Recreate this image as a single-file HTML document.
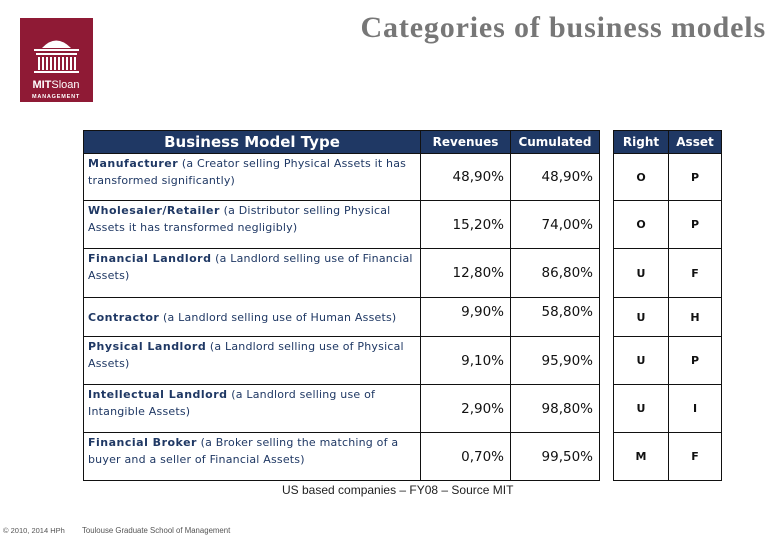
<!DOCTYPE html>
<html><head><meta charset="utf-8">
<style>
body{margin:0;width:780px;height:540px;background:#fff;position:relative;overflow:hidden;font-family:"DejaVu Sans","Liberation Sans",sans-serif}
.a{position:absolute;box-sizing:border-box}
.title{right:14px;top:11px;font-family:"Liberation Serif",serif;font-weight:bold;font-size:30px;color:#777;letter-spacing:0.85px;white-space:nowrap}
.logo{left:20px;top:18px;width:73px;height:84px;background:#8f1a35}
.cell{border:1.5px solid #111;}
.hd{background:#1f3864;color:#fff;font-weight:bold;font-size:12px;display:flex;align-items:center;justify-content:center}
.desc{font-size:11px;color:#1f3864;line-height:17px;padding:1px 4px;letter-spacing:0.2px}
.desc b{letter-spacing:0.5px}
.num{font-size:13.5px;color:#111;text-align:right;padding-right:6px;display:flex;align-items:center;justify-content:flex-end}
.ltr{font-size:11px;color:#111;font-weight:bold;display:flex;align-items:center;justify-content:center}
</style></head><body>
<div class="a title">Categories of business models</div>
<div class="a logo">
<svg width="73" height="84" viewBox="0 0 73 84">
<path d="M22 30 Q36 15 51 30 Z" fill="#fff"/>
<rect x="14" y="31" width="45" height="2" fill="#fff"/>
<rect x="16" y="35" width="41" height="2" fill="#fff"/>
<g fill="#fff"><rect x="18" y="39" width="2" height="13"/><rect x="22" y="39" width="2" height="13"/><rect x="26" y="39" width="2" height="13"/><rect x="30" y="39" width="2" height="13"/><rect x="34" y="39" width="2" height="13"/><rect x="38" y="39" width="2" height="13"/><rect x="42" y="39" width="2" height="13"/><rect x="46" y="39" width="2" height="13"/><rect x="50" y="39" width="2" height="13"/><rect x="54" y="39" width="2" height="13"/></g>
<rect x="14" y="53" width="45" height="2" fill="#fff"/>
<text x="36" y="70" text-anchor="middle" fill="#fff" font-family="Liberation Sans" font-size="11"><tspan font-weight="bold">MIT</tspan>Sloan</text>
<text x="36" y="80" text-anchor="middle" fill="#fff" font-family="Liberation Sans" font-size="5.5" font-weight="bold" letter-spacing="0.8">MANAGEMENT</text>
</svg></div>
<div id="tbl"></div>
<div class="a" style="left:0;width:600px;top:483px;font-family:'Liberation Sans',sans-serif;font-size:12px;color:#222"><span style="position:absolute;left:282px;white-space:nowrap">US based companies – FY08 – Source MIT</span></div>
<div class="a" style="left:3px;top:526px;font-size:7.5px;color:#555;font-family:'Liberation Sans',sans-serif">© 2010, 2014 HPh</div>
<div class="a" style="left:82px;top:526px;font-size:7.8px;color:#555;font-family:'Liberation Sans',sans-serif">Toulouse Graduate School of Management</div>
<script>
const names=["Manufacturer","Wholesaler/Retailer","Financial Landlord","Contractor","Physical Landlord","Intellectual Landlord","Financial Broker"];
const descs=[" (a Creator selling Physical Assets it has transformed significantly)"," (a Distributor selling Physical Assets it has transformed negligibly)"," (a Landlord selling use of Financial Assets)","&nbsp;(a Landlord selling use of Human Assets)"," (a Landlord selling use of Physical Assets)"," (a Landlord selling use of Intangible Assets)"," (a Broker selling the matching of a buyer and a seller of Financial Assets)"];
const revenues=["48,90%","15,20%","12,80%","9,90%","9,10%","2,90%","0,70%"];
const cumulated=["48,90%","74,00%","86,80%","58,80%","95,90%","98,80%","99,50%"];
const rights=["O","O","U","U","U","U","M"];
const assets=["P","P","F","H","P","I","F"];
const headers=["Business Model Type","Revenues","Cumulated","Right","Asset"];
const cols=[[83,421],[420,511],[510,600],[613,669],[668,722]];
const rowsY=[130,153,200,248,297,336,384,432,480];
const root=document.getElementById('tbl');
function mk(cls,x0,x1,y0,y1,html){const d=document.createElement('div');d.className='a cell '+cls;d.style.left=x0+'px';d.style.width=(x1-x0)+'px';d.style.top=y0+'px';d.style.height=(y1-y0+1)+'px';d.innerHTML=html;root.appendChild(d);return d;}
headers.forEach((h,i)=>{const el=mk('hd',cols[i][0],cols[i][1],rowsY[0],rowsY[1],h);if(i==0)el.style.fontSize='15px';

});
names.forEach((n,r)=>{const y0=rowsY[r+1],y1=rowsY[r+2];
let e=mk('desc',cols[0][0],cols[0][1],y0,y1,'<b>'+n+'</b>'+descs[r]);
if(r==3){e.style.display='flex';e.style.alignItems='center';}


e=mk('num',cols[1][0],cols[1][1],y0,y1,revenues[r]);e.style.alignItems=r==3?'flex-start':'center';if(r==3)e.style.paddingTop='6px';


e=mk('num',cols[2][0],cols[2][1],y0,y1,cumulated[r]);e.style.alignItems=r==3?'flex-start':'center';if(r==3)e.style.paddingTop='6px';


e=mk('ltr',cols[3][0],cols[3][1],y0,y1,rights[r]);


e=mk('ltr',cols[4][0],cols[4][1],y0,y1,assets[r]);


});
</script>
</body></html>
